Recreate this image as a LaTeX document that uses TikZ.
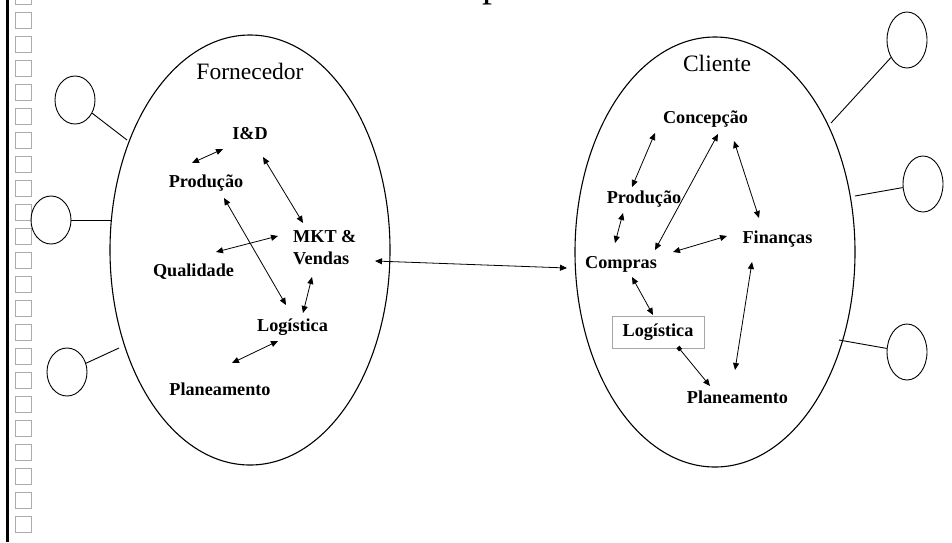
\documentclass[tikz,border=0pt]{standalone}
\usepackage{fontspec}
\setmainfont{Liberation Serif}
\usetikzlibrary{arrows.meta,shapes.geometric}
\begin{document}
\begin{tikzpicture}[x=1pt,y=-1pt,
  lbl/.style={font=\fontsize{18.2}{22}\selectfont\bfseries, inner sep=0pt},
  ttl/.style={font=\fontsize{23.5}{26}\selectfont, inner sep=0pt},
  bigoval/.style={ellipse, draw, line width=1.1pt, minimum width=280pt, minimum height=430pt, inner sep=0pt},
  bubble/.style={ellipse, draw, line width=0.9pt, minimum width=40pt, inner sep=0pt},
  link/.style={line width=0.9pt},
  dual/.style={{Triangle[length=7pt,width=6pt]}-{Triangle[length=7pt,width=6pt]}, line width=0.8pt},
  tab/.style={draw=gray!65, line width=0.7pt}]
\useasboundingbox (0,0) rectangle (952,542);
\clip (0,0) rectangle (952,542);

% page margin: thick rule and the column of small squares
\draw[line width=2.6pt] (7.5,0) -- (7.5,542);
\foreach \k in {-1,...,21}
  \draw[tab] (15,12+24*\k) rectangle (31,28+24*\k);

% foot of the clipped heading
\node[font=\fontsize{40}{44}\selectfont, inner sep=0pt, anchor=base] (head) at (492,-4) {p};

% the two organisations
\node[bigoval] (forn) at (250,250) {};
\node[bigoval] (cli) at (715,252) {};
\node[ttl, anchor=base] (fornT) at (250,79) {Fornecedor};
\node[ttl, anchor=base] (cliT) at (717,71) {Cliente};

% outside bubbles
\node[bubble, minimum height=48pt] (bl1) at (75,100) {};
\node[bubble, minimum height=48pt] (bl2) at (51,220) {};
\node[bubble, minimum height=48pt] (bl3) at (67,372) {};
\node[bubble, minimum height=56pt] (br1) at (907,40) {};
\node[bubble, minimum height=56pt] (br2) at (923,184) {};
\node[bubble, minimum height=56pt] (br3) at (907,352) {};
\coordinate (el1) at (127,140);
\coordinate (el2) at (111,220);
\coordinate (el3) at (119,348);
\coordinate (er1) at (831,123);
\coordinate (er2) at (855,196);
\coordinate (er3) at (839,340);
\draw[link] (bl1) -- (el1);
\draw[link] (bl2) -- (el2);
\draw[link] (bl3) -- (el3);
\draw[link] (br1) -- (er1);
\draw[link] (br2) -- (er2);
\draw[link] (br3) -- (er3);

% supplier functions
\node[lbl, anchor=base] (id) at (250,139) {I\&D};
\node[lbl, anchor=base] (prodF) at (206,187) {Produção};
\node[lbl, anchor=west, align=left] (mkt) at (293,248) {MKT \&\\Vendas};
\node[lbl, anchor=base] (qual) at (193.5,276) {Qualidade};
\node[lbl, anchor=base] (logF) at (292.5,331) {Logística};
\node[lbl, anchor=base] (planF) at (220,395) {Planeamento};

% client functions
\node[lbl, anchor=base] (conc) at (705.5,123) {Concepção};
\node[lbl, anchor=base] (prodC) at (644,203) {Produção};
\node[lbl, anchor=base] (fin) at (777.5,243) {Finanças};
\node[lbl, anchor=base] (comp) at (621,268) {Compras};
\node[lbl, draw=gray!70, line width=0.7pt, minimum width=92pt, minimum height=32pt] (logC) at (658,332) {Logística};
\node[lbl, anchor=base] (planC) at (737.5,403) {Planeamento};

% arrow ends
\coordinate (f1a) at (192,163); \coordinate (f1b) at (223,149);
\coordinate (f2a) at (263,157); \coordinate (f2b) at (303,223);
\coordinate (f3a) at (224,198); \coordinate (f3b) at (286,305);
\coordinate (f4a) at (216,252); \coordinate (f4b) at (278,236);
\coordinate (f5a) at (312,277); \coordinate (f5b) at (303,313);
\coordinate (f6a) at (278,341); \coordinate (f6b) at (232,363);
\coordinate (xa) at (375,261);  \coordinate (xb) at (567,268);
\coordinate (c1a) at (655,133); \coordinate (c1b) at (632,187);
\coordinate (c2a) at (623,213); \coordinate (c2b) at (615,243);
\coordinate (c3a) at (718,134); \coordinate (c3b) at (655,250);
\coordinate (c4a) at (734,141); \coordinate (c4b) at (759,218);
\coordinate (c5a) at (673,252); \coordinate (c5b) at (727,236);
\coordinate (c6a) at (632,277); \coordinate (c6b) at (653,315);
\coordinate (c7a) at (678,347); \coordinate (c7b) at (710,386);
\coordinate (c8a) at (752,262); \coordinate (c8b) at (735,370);

% supplier flows
\draw[dual] (f1a) -- (f1b);
\draw[dual] (f2a) -- (f2b);
\draw[dual] (f3a) -- (f3b);
\draw[dual] (f4a) -- (f4b);
\draw[dual] (f5a) -- (f5b);
\draw[dual] (f6a) -- (f6b);

% supplier <-> client
\draw[dual] (xa) -- (xb);

% client flows
\draw[dual] (c1a) -- (c1b);
\draw[dual] (c2a) -- (c2b);
\draw[dual] (c3a) -- (c3b);
\draw[dual] (c4a) -- (c4b);
\draw[dual] (c5a) -- (c5b);
\draw[dual] (c6a) -- (c6b);
\draw[{Square[length=4pt,width=4pt]}-{Triangle[length=7pt,width=6pt]}, line width=0.8pt] (c7a) -- (c7b);
\draw[dual] (c8a) -- (c8b);
\end{tikzpicture}
\end{document}
